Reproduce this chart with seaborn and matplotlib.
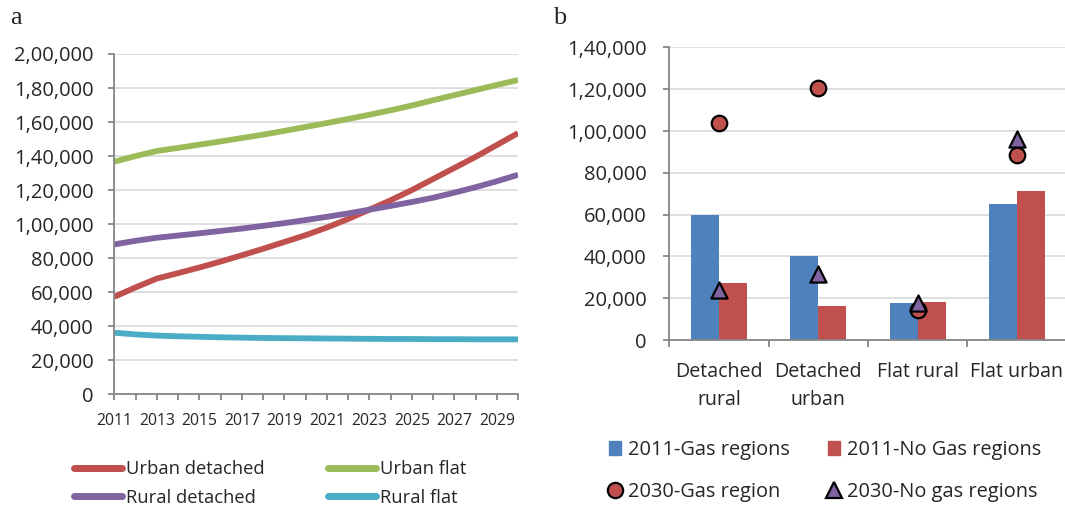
import numpy as np
import pandas as pd
import matplotlib
matplotlib.use('Agg')
import matplotlib.pyplot as plt
from matplotlib.lines import Line2D
from matplotlib.patches import Patch
from matplotlib.ticker import FuncFormatter, MultipleLocator
import seaborn as sns

# Panel a: housing stock projection 2011-2030
years = list(range(2011, 2031))
urban_detached = [57300, 62800, 68000, 71200, 74500, 78000, 81700, 85500, 89500, 93500,
                  98000, 103000, 108500, 114000, 120000, 126500, 133000, 139500, 146500, 153500]
urban_flat = [136700, 140000, 143000, 144800, 146700, 148600, 150600, 152600, 154800, 157100,
              159400, 161800, 164300, 166900, 169700, 172800, 175800, 178800, 181800, 184700]
rural_detached = [88100, 90200, 92000, 93300, 94600, 96000, 97400, 99000, 100600, 102400,
                  104300, 106300, 108500, 110700, 113000, 115500, 118500, 121700, 125200, 129000]
rural_flat = [36200, 35200, 34500, 34100, 33800, 33500, 33300, 33100, 33000, 32900,
              32800, 32700, 32600, 32500, 32500, 32400, 32400, 32300, 32300, 32300]
series_names = ['Urban detached', 'Urban flat', 'Rural detached', 'Rural flat']
line_colors = ['#C0504D', '#9BBB59', '#8064A2', '#4BACC6']

# Panel b: 2011 bars and 2030 markers
categories = ['Detached\nrural', 'Detached\nurban', 'Flat rural', 'Flat urban']
gas_2011 = [60000, 40300, 17600, 65100]
nogas_2011 = [27400, 16300, 18000, 71300]
gas_2030 = [103700, 120700, 14400, 88500]
nogas_2030 = [23900, 31600, 17800, 96000]
bar_groups = ['2011-Gas regions', '2011-No Gas regions']
marker_labels = ['2030-Gas region', '2030-No gas regions']

blue = '#4F81BD'
red = '#C0504D'
purple = '#8064A2'
axis_gray = '#868686'
grid_gray = '#D9D9D9'

sns.set_style('white')
plt.rcParams['font.family'] = ['Open Sans', 'DejaVu Sans']


def indian(v, pos=None):
    v = int(round(v))
    s = str(v)
    if len(s) <= 3:
        return s
    last3, rest = s[-3:], s[:-3]
    groups = []
    while len(rest) > 2:
        groups.insert(0, rest[-2:])
        rest = rest[:-2]
    if rest:
        groups.insert(0, rest)
    return ','.join(groups + [last3])


def style_axes(ax):
    for side in ['top', 'right']:
        ax.spines[side].set_visible(False)
    for side in ['left', 'bottom']:
        ax.spines[side].set_color(axis_gray)
        ax.spines[side].set_linewidth(1.3)
    ax.yaxis.grid(True, color=grid_gray, linewidth=1.2)
    ax.set_axisbelow(True)
    ax.yaxis.set_major_formatter(FuncFormatter(indian))
    ax.set_xlabel('')
    ax.set_ylabel('')


fig = plt.figure(figsize=(10.65, 5.05), dpi=100)
ax1 = fig.add_axes([0.1073, 0.2192, 0.3791, 0.6739])
ax2 = fig.add_axes([0.6285, 0.3267, 0.3730, 0.5794])

# ---- panel a ----
df_lines = pd.DataFrame({'year': years, 'Urban detached': urban_detached, 'Urban flat': urban_flat,
                         'Rural detached': rural_detached, 'Rural flat': rural_flat})
df_lines = df_lines.melt(id_vars='year', var_name='series', value_name='value')
sns.lineplot(data=df_lines, x='year', y='value', hue='series', hue_order=series_names,
             palette=line_colors, linewidth=4.2, legend=False, ax=ax1)
for ln in ax1.get_lines():
    ln.set_solid_capstyle('butt')
style_axes(ax1)
ax1.set_xlim(2011, 2030)
ax1.set_ylim(0, 200000)
ax1.yaxis.set_major_locator(MultipleLocator(20000))
ax1.set_xticks(years[::2])
ax1.set_xticks(years, minor=True)
ax1.tick_params(axis='y', which='major', left=True, length=4.5, width=1.3, color=axis_gray,
                labelsize=14.5, pad=10.5)
ax1.tick_params(axis='x', which='both', bottom=True, length=4.5, width=1.3, color=axis_gray,
                labelsize=11.3, pad=9)

# ---- panel b ----
df_bars = pd.DataFrame({'category': categories * 2,
                        'group': [bar_groups[0]] * 4 + [bar_groups[1]] * 4,
                        'value': gas_2011 + nogas_2011})
sns.barplot(data=df_bars, x='category', y='value', hue='group', order=categories,
            hue_order=bar_groups, palette=[blue, red], saturation=1, width=0.564,
            edgecolor='none', legend=False, ax=ax2)
pos = np.arange(len(categories))
ax2.scatter(pos, gas_2030, s=125, marker='o', color=red, edgecolor='black', linewidth=1.6, zorder=4)
ax2.scatter(pos, nogas_2030, s=135, marker='^', color=purple, edgecolor='black', linewidth=1.6, zorder=5)
style_axes(ax2)
ax2.set_xlim(-0.5, 3.5)
ax2.set_ylim(0, 140000)
ax2.yaxis.set_major_locator(MultipleLocator(20000))
ax2.set_xticks(pos)
ax2.set_xticks(np.arange(-0.5, 4.0, 1.0), minor=True)
ax2.tick_params(axis='y', which='major', left=True, length=4.5, width=1.3, color=axis_gray,
                labelsize=14.5, pad=12)
ax2.tick_params(axis='x', which='major', bottom=False, labelsize=14.1, pad=12)
ax2.tick_params(axis='x', which='minor', bottom=True, length=5, width=1.3, color=axis_gray)
for lbl in ax2.get_xticklabels():
    lbl.set_linespacing(1.58)
    lbl.set_verticalalignment('top')

# ---- legends ----
line_handles = [Line2D([], [], color=c, lw=5, solid_capstyle='round') for c in line_colors]
order = [0, 2, 1, 3]
fig.legend([line_handles[i] for i in order], [series_names[i] for i in order],
           loc='upper left', bbox_to_anchor=(0.0698, 0.089), ncol=2, frameon=False,
           fontsize=13.2, handlelength=2.6, handletextpad=0.2, columnspacing=3.5,
           labelspacing=0.58, borderpad=0, borderaxespad=0)

bar_handles = [Patch(color=blue), Patch(color=red)]
mk_handles = [Line2D([], [], linestyle='none', marker='o', markersize=11, markerfacecolor=red,
                     markeredgecolor='black', markeredgewidth=1.6),
              Line2D([], [], linestyle='none', marker='^', markersize=11.5, markerfacecolor=purple,
                     markeredgecolor='black', markeredgewidth=1.6)]
fig.legend([bar_handles[0], mk_handles[0], bar_handles[1], mk_handles[1]],
           [bar_groups[0], marker_labels[0], bar_groups[1], marker_labels[1]],
           loc='upper left', bbox_to_anchor=(0.5714, 0.129), ncol=2, frameon=False,
           fontsize=14.4, handlelength=0.6, handleheight=0.65, handletextpad=0.35,
           columnspacing=1.95, labelspacing=1.1, borderpad=0, borderaxespad=0)

# panel letters
fig.text(0.0095, 0.965, 'a', family=['Liberation Serif', 'DejaVu Serif'], fontsize=19, va='center')
fig.text(0.519, 0.965, 'b', family=['Liberation Serif', 'DejaVu Serif'], fontsize=19, va='center')

fig.savefig('out.png', dpi=100)
